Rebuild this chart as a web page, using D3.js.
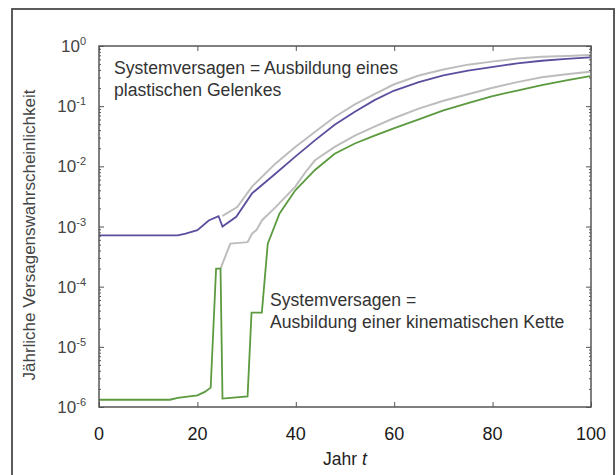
<!DOCTYPE html>
<html><head><meta charset="utf-8">
<script src="https://cdn.jsdelivr.net/npm/d3@7"></script>
<style>body{margin:0;background:#fff;} svg{display:block;font-family:"Liberation Sans",Arial,sans-serif;}</style>
</head><body>
<script>
// Data
const blueX = [0, 16, 17.6, 20, 22.3, 24.3, 25.1, 27.9, 31.1, 35.9, 39.9, 44, 47.9, 52, 56, 59.9, 65, 70, 75, 79.8, 85, 90, 95, 99.8];
const blueY = [7.1e-4, 7.1e-4, 7.6e-4, 8.7e-4, 1.26e-3, 1.48e-3, 1.0e-3, 1.45e-3, 3.55e-3, 7.6e-3, 1.45e-2, 2.75e-2, 4.9e-2, 8.1e-2, 1.26e-1, 1.8e-1, 2.51e-1, 3.24e-1, 3.89e-1, 4.47e-1, 5.13e-1, 5.69e-1, 6.1e-1, 6.46e-1];
const blueUpX = [25.1, 28.1, 31.1, 35.9, 39.9, 44, 47.9, 52, 56, 59.9, 65, 70, 75, 79.8, 85, 90, 95, 99.8];
const blueUpY = [1.5e-3, 2.1e-3, 4.6e-3, 1.12e-2, 2.1e-2, 3.8e-2, 6.6e-2, 1.07e-1, 1.58e-1, 2.29e-1, 3.24e-1, 4.07e-1, 4.9e-1, 5.5e-1, 6.17e-1, 6.6e-1, 6.84e-1, 7.08e-1];
const greenX = [0, 14.4, 16, 20, 21.5, 22.7, 23.8, 24.7, 25.1, 30.2, 31, 33.1, 34.3, 36.7, 39.9, 43.9, 47.9, 52, 56, 59.9, 65, 70, 75, 79.8, 85, 90, 95, 99.8];
const greenY = [1.32e-6, 1.32e-6, 1.42e-6, 1.56e-6, 1.78e-6, 2.1e-6, 2.0e-4, 2.0e-4, 1.38e-6, 1.5e-6, 3.7e-5, 3.7e-5, 5.2e-4, 1.65e-3, 4.0e-3, 8.7e-3, 1.62e-2, 2.4e-2, 3.24e-2, 4.27e-2, 6.03e-2, 8.5e-2, 1.12e-1, 1.45e-1, 1.82e-1, 2.24e-1, 2.69e-1, 3.16e-1];
const greenUpX = [24.7, 26.7, 30.2, 31.1, 32, 33.1, 35.9, 39.9, 41.9, 43.9, 47.9, 52, 56, 59.9, 65, 70, 75, 79.8, 85, 90, 95, 99.8];
const greenUpY = [2.0e-4, 5.2e-4, 5.5e-4, 7.6e-4, 8.7e-4, 1.26e-3, 2.1e-3, 4.6e-3, 7.9e-3, 1.26e-2, 2.1e-2, 3.24e-2, 4.57e-2, 6.3e-2, 9.1e-2, 1.23e-1, 1.58e-1, 2.0e-1, 2.51e-1, 3.02e-1, 3.39e-1, 3.72e-1];
const xTicks = [0, 20, 40, 60, 80, 100];
const yExponents = [0, -1, -2, -3, -4, -5, -6];

const W = 616, H = 475;
const m = {left: 99, right: 591, top: 46, bottom: 407};
const svg = d3.select("body").append("svg").attr("width", W).attr("height", H);

// outer frame
svg.append("rect").attr("x", 12).attr("y", 9).attr("width", 602).attr("height", 500)
  .attr("fill", "none").attr("stroke", "#4a4a4a").attr("stroke-width", 1.8);

const x = d3.scaleLinear().domain([0, 100]).range([m.left, m.right]);
const y = d3.scaleLog().domain([1e-6, 1]).range([m.bottom, m.top]);

const line = d3.line().x(d => x(d[0])).y(d => y(d[1]));
const zip = (a, b) => a.map((v, i) => [v, b[i]]);

const g = svg.append("g");
g.append("path").datum(zip(blueUpX, blueUpY)).attr("d", line).attr("fill", "none").attr("stroke", "#bdbdbd").attr("stroke-width", 2);
g.append("path").datum(zip(greenUpX, greenUpY)).attr("d", line).attr("fill", "none").attr("stroke", "#bdbdbd").attr("stroke-width", 2);
g.append("path").datum(zip(blueX, blueY)).attr("d", line).attr("fill", "none").attr("stroke", "#5b4e9e").attr("stroke-width", 1.8);
g.append("path").datum(zip(greenX, greenY)).attr("d", line).attr("fill", "none").attr("stroke", "#5b9a3e").attr("stroke-width", 1.8);

// axes (box with inward ticks)
const axCol = "#555";
const minorTicks = [];
for (let e = -6; e < 0; e++) for (let k = 2; k <= 9; k++) minorTicks.push(k * Math.pow(10, e));
const majors = yExponents.map(e => Math.pow(10, e));

svg.append("g").attr("transform", `translate(${m.left},0)`).call(d3.axisLeft(y).tickValues(minorTicks).tickSize(-2).tickFormat(""));
svg.append("g").attr("transform", `translate(${m.right},0)`).call(d3.axisRight(y).tickValues(minorTicks).tickSize(-2).tickFormat(""));
svg.append("g").attr("transform", `translate(${m.left},0)`).call(d3.axisLeft(y).tickValues(majors).tickSize(-5).tickFormat(""));
svg.append("g").attr("transform", `translate(${m.right},0)`).call(d3.axisRight(y).tickValues(majors).tickSize(-5).tickFormat(""));
svg.append("g").attr("transform", `translate(0,${m.bottom})`).call(d3.axisBottom(x).tickValues(xTicks).tickSize(-5).tickFormat(""));
svg.append("g").attr("transform", `translate(0,${m.top})`).call(d3.axisTop(x).tickValues(xTicks).tickSize(-5).tickFormat(""));
svg.selectAll(".domain").attr("stroke", "none");
svg.selectAll(".tick line").attr("stroke", axCol).attr("stroke-width", 1);
svg.append("rect").attr("x", m.left).attr("y", m.top).attr("width", m.right - m.left).attr("height", m.bottom - m.top)
  .attr("fill", "none").attr("stroke", axCol).attr("stroke-width", 1.5);

// y tick labels 10^e
const yl = svg.append("g");
yExponents.forEach(e => {
  const t = yl.append("text").attr("x", 86).attr("y", y(Math.pow(10, e)) + 6).attr("text-anchor", "end")
    .attr("font-size", 17).attr("fill", "#444");
  t.append("tspan").text("10");
  t.append("tspan").attr("dy", -7).attr("font-size", 11).text(String(e));
});

// x tick labels
svg.append("g").selectAll("text").data(xTicks).join("text")
  .attr("x", d => x(d)).attr("y", 440).attr("text-anchor", "middle")
  .attr("font-size", 18).attr("fill", "#1a1a1a").text(d => d);

// axis titles
const xt = svg.append("text").attr("x", x(50)).attr("y", 465).attr("text-anchor", "middle").attr("font-size", 17.5).attr("fill", "#222");
xt.append("tspan").text("Jahr ");
xt.append("tspan").attr("font-style", "italic").text("t");

svg.append("text").attr("transform", `translate(35,235) rotate(-90)`)
  .attr("text-anchor", "middle").attr("font-size", 17).attr("fill", "#444")
  .text("Jährliche Versagenswahrscheinlichkeit");

// annotations
const a1 = svg.append("text").attr("font-size", 17.6).attr("fill", "#333");
a1.append("tspan").attr("x", 114).attr("y", 74).text("Systemversagen = Ausbildung eines");
a1.append("tspan").attr("x", 114).attr("y", 96).text("plastischen Gelenkes");
const a2 = svg.append("text").attr("font-size", 17.6).attr("fill", "#333");
a2.append("tspan").attr("x", 270).attr("y", 306).text("Systemversagen =");
a2.append("tspan").attr("x", 270).attr("y", 328).text("Ausbildung einer kinematischen Kette");
</script>
</body></html>
